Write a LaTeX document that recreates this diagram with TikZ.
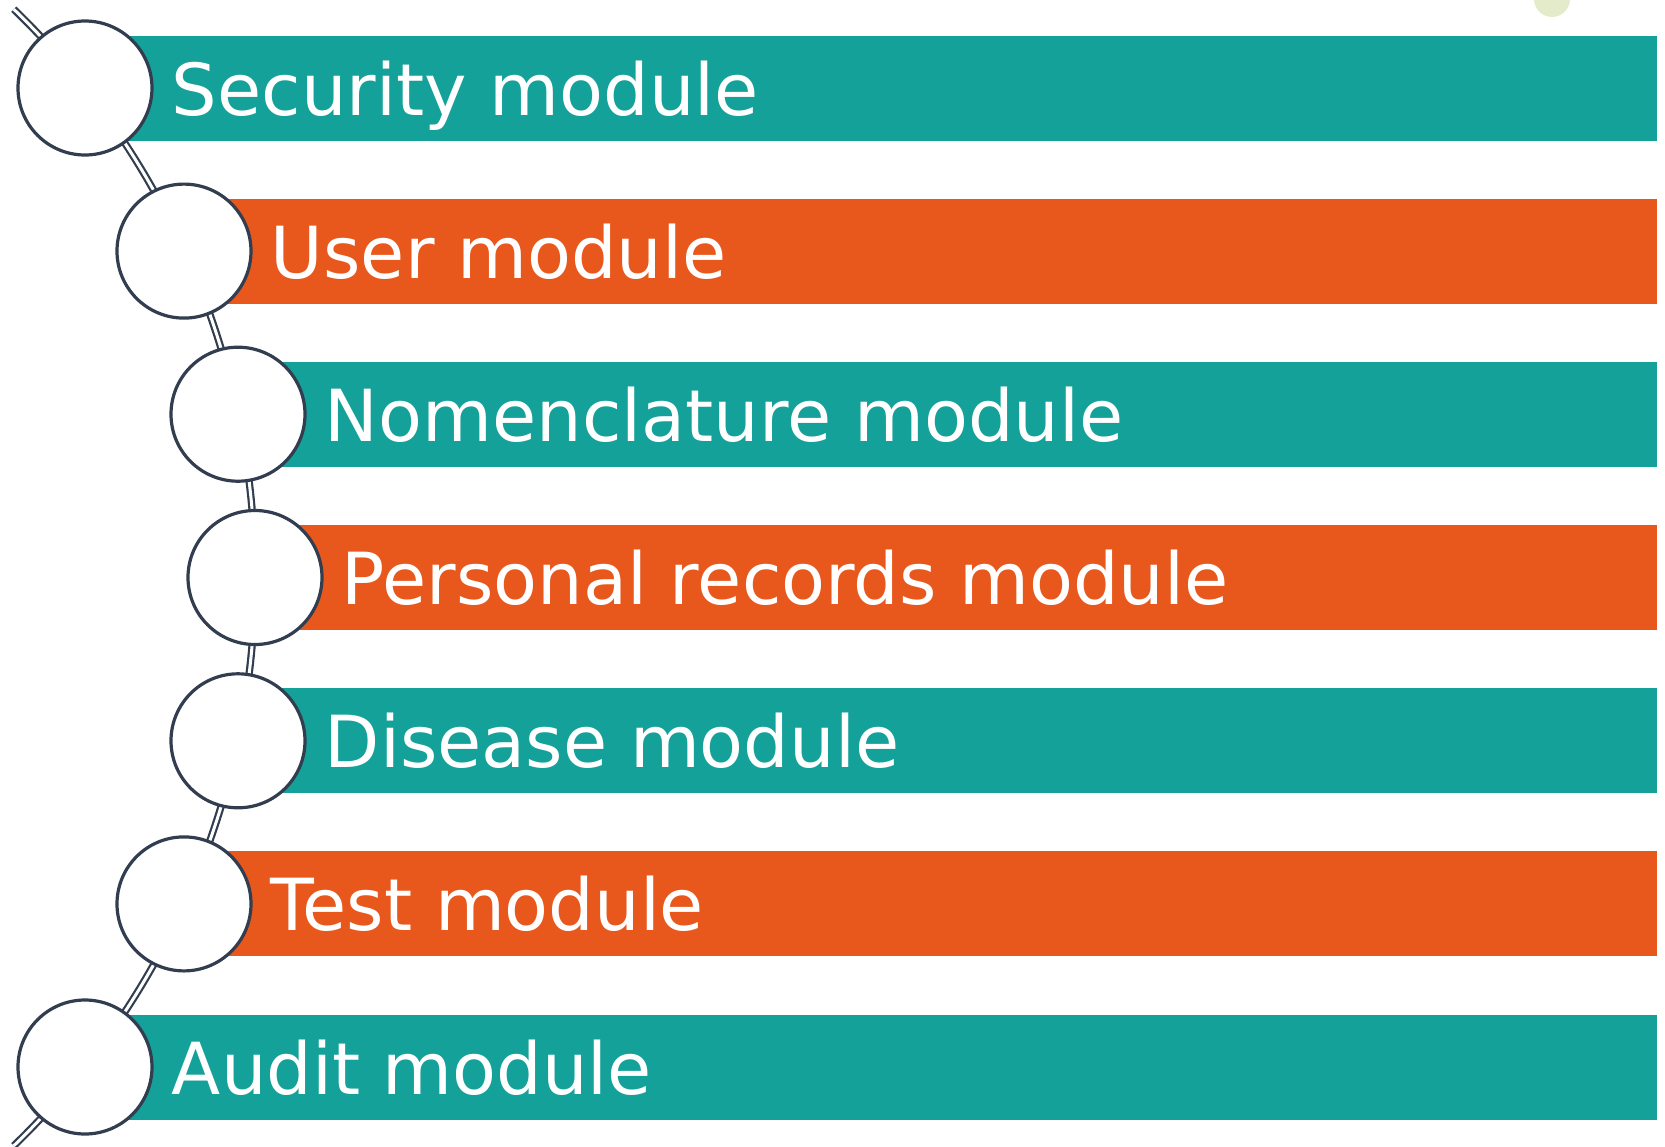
\documentclass[tikz,border=0pt]{standalone}
\usepackage{fontspec}
\setmainfont{DejaVu Sans}
\usepackage{xcolor}
\usepackage{tikz}

\definecolor{modteal}{RGB}{20,161,154}
\definecolor{modorange}{RGB}{232,88,28}
\definecolor{rim}{RGB}{50,62,79}
\definecolor{blob}{RGB}{227,235,203}

\begin{document}
\begin{tikzpicture}[x=0.5pt,y=0.5pt,
                    ring/.style={circle,draw=rim,line width=1.6pt,fill=white,
                    minimum size=67pt,inner sep=0pt},
                    link/.style={draw=rim,line width=1.1pt,double=white,
                    double distance=1.5pt},
                    lbl/.style={text=white,anchor=base west,inner sep=0pt,
                    font=\fontsize{35.9}{40}\selectfont}]
    \useasboundingbox (0,0) rectangle (1665,-1146);
    \node[circle,fill=blob,minimum size=18pt,inner sep=0pt](dot) at (1552,1) {};
    \coordinate (arcc) at (-535,-577.5);
    \draw[link] (arcc) ++(46:790) arc[start angle=46,end angle=-46,radius=790];
    \foreach \cx/\cy/\col/\txt [count=\i] in
        {85/88/modteal/Security module,
         184/251.1/modorange/User module,
         238/414.2/modteal/Nomenclature module,
         255/577.5/modorange/Personal records module,
         238/740.8/modteal/Disease module,
         184/903.9/modorange/Test module,
         85/1067/modteal/Audit module}
    {
        \fill[\col] (\cx,-\cy+52.5) rectangle (1657,-\cy-52.5);
        \node[ring](c\i) at (\cx,-\cy) {};
        \node[lbl](t\i) at (\cx+86.5,-\cy-27) {\txt};
    }
\end{tikzpicture}
\end{document}
